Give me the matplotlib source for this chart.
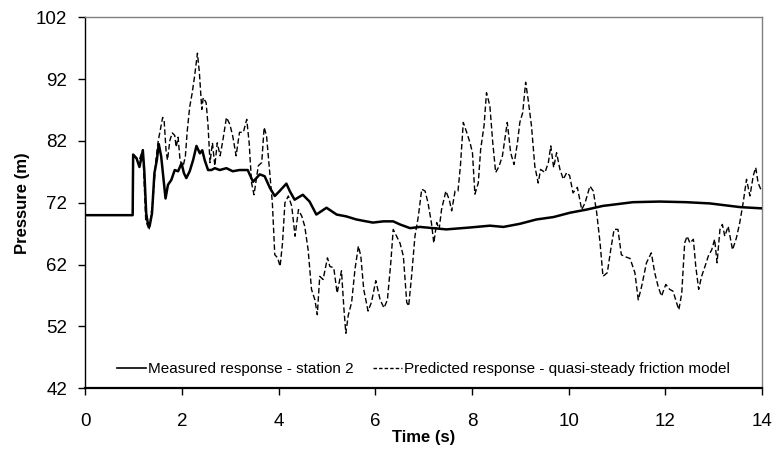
import matplotlib
matplotlib.use("Agg")
import matplotlib.pyplot as plt
from matplotlib.lines import Line2D

plt.rcParams['font.family'] = ['Liberation Sans', 'DejaVu Sans']

# Measured response - station 2
meas_t = [0.0, 0.98, 0.99, 1.06, 1.12, 1.15, 1.19, 1.22, 1.26, 1.30, 1.33, 1.38, 1.43, 1.48,
          1.52, 1.57, 1.62, 1.66, 1.71, 1.78, 1.85, 1.92, 1.99, 2.04, 2.09, 2.16, 2.23, 2.30,
          2.37, 2.42, 2.47, 2.54, 2.61, 2.68, 2.78, 2.92, 3.05, 3.19, 3.36, 3.47, 3.61, 3.71,
          3.82, 3.92, 4.02, 4.16, 4.23, 4.33, 4.50, 4.64, 4.78, 4.99, 5.20, 5.40, 5.61, 5.81,
          5.95, 6.17, 6.37, 6.51, 6.72, 6.92, 7.20, 7.47, 7.95, 8.37, 8.65, 8.99, 9.33, 9.69,
          10.03, 10.37, 10.71, 10.92, 11.33, 11.88, 12.43, 12.92, 13.55, 14.0]
meas_p = [70.0, 70.0, 79.8, 79.2, 77.8, 78.9, 80.5, 77.3, 70.3, 68.4, 68.2, 70.3, 76.8, 78.9,
          81.5, 79.5, 75.7, 72.7, 74.9, 75.7, 77.3, 77.1, 78.4, 76.8, 76.0, 77.1, 78.9, 81.2,
          80.0, 80.5, 78.9, 77.3, 77.3, 77.6, 77.3, 77.6, 77.1, 77.3, 77.3, 75.4, 76.6, 76.3,
          74.4, 73.1, 73.9, 75.1, 73.9, 72.5, 73.3, 72.2, 70.1, 71.2, 70.1, 69.8, 69.3, 69.0,
          68.8, 69.0, 69.0, 68.5, 67.9, 68.1, 67.9, 67.7, 68.0, 68.3, 68.1, 68.6, 69.3, 69.7,
          70.4, 70.9, 71.5, 71.7, 72.1, 72.2, 72.1, 71.9, 71.3, 71.1]

# Predicted response - quasi-steady friction model
pred_t = [0.0, 0.98, 0.99, 1.06, 1.12, 1.19, 1.25, 1.32, 1.40, 1.46, 1.51, 1.55, 1.60, 1.63,
          1.67, 1.70, 1.75, 1.80, 1.85, 1.88, 1.92, 1.96, 2.02, 2.07, 2.11, 2.16, 2.21, 2.26,
          2.32, 2.36, 2.41, 2.44, 2.50, 2.54, 2.58, 2.63, 2.68, 2.73, 2.79, 2.85, 2.92, 2.99,
          3.05, 3.12, 3.19, 3.27, 3.34, 3.39, 3.44, 3.49, 3.58, 3.65, 3.70, 3.75, 3.81, 3.87,
          3.92, 3.98, 4.03, 4.08, 4.13, 4.20, 4.27, 4.34, 4.41, 4.48, 4.54, 4.61, 4.68, 4.75,
          4.80, 4.85, 4.92, 5.01, 5.06, 5.14, 5.21, 5.30, 5.35, 5.39, 5.44, 5.51, 5.58, 5.65,
          5.70, 5.76, 5.85, 5.92, 6.01, 6.10, 6.18, 6.25, 6.32, 6.37, 6.44, 6.51, 6.58, 6.65,
          6.69, 6.75, 6.82, 6.89, 6.96, 7.03, 7.09, 7.16, 7.21, 7.27, 7.32, 7.37, 7.46, 7.53,
          7.58, 7.65, 7.71, 7.76, 7.82, 7.89, 7.96, 8.01, 8.06, 8.13, 8.18, 8.25, 8.30, 8.37,
          8.43, 8.49, 8.56, 8.63, 8.73, 8.80, 8.87, 8.94, 8.99, 9.05, 9.11, 9.16, 9.23, 9.30,
          9.37, 9.42, 9.51, 9.58, 9.63, 9.69, 9.75, 9.82, 9.89, 9.96, 10.02, 10.09, 10.18,
          10.27, 10.34, 10.44, 10.51, 10.58, 10.65, 10.71, 10.80, 10.87, 10.94, 11.02, 11.09,
          11.16, 11.27, 11.37, 11.44, 11.51, 11.61, 11.71, 11.78, 11.85, 11.92, 12.01, 12.09,
          12.16, 12.23, 12.28, 12.34, 12.40, 12.45, 12.51, 12.58, 12.63, 12.69, 12.75, 12.82,
          12.89, 12.96, 13.02, 13.07, 13.13, 13.18, 13.23, 13.30, 13.39, 13.47, 13.54, 13.61,
          13.68, 13.75, 13.82, 13.87, 13.92, 13.99]
pred_p = [70.0, 70.0, 79.8, 79.2, 79.0, 80.6, 69.2, 67.6, 72.5, 78.9, 82.1, 83.7, 85.8, 85.4,
          80.5, 78.9, 82.1, 83.3, 82.9, 81.0, 82.6, 78.9, 77.8, 79.5, 83.7, 87.5, 89.7, 92.4,
          96.2, 93.1, 87.1, 89.0, 88.2, 84.4, 78.5, 81.7, 78.0, 81.7, 79.6, 82.3, 85.8, 84.7,
          82.8, 79.6, 83.4, 83.4, 85.5, 81.7, 75.2, 73.3, 78.0, 78.5, 84.2, 82.8, 77.4, 72.0,
          63.6, 63.1, 61.7, 65.5, 72.0, 73.1, 71.5, 66.6, 70.9, 69.8, 68.2, 64.4, 58.0, 56.3,
          53.9, 60.1, 59.6, 63.1, 61.7, 61.5, 57.4, 61.0, 54.9, 50.9, 53.8, 55.9, 61.3, 65.0,
          63.4, 58.0, 54.5, 55.9, 59.4, 56.3, 55.0, 56.3, 62.3, 67.7, 66.6, 65.5, 63.4, 55.9,
          55.3, 60.1, 66.6, 69.8, 74.2, 73.9, 72.0, 68.8, 65.5, 68.8, 67.7, 70.9, 73.9, 72.5,
          70.7, 73.9, 73.9, 77.9, 85.0, 83.4, 81.7, 80.1, 73.4, 75.2, 80.7, 84.5, 89.8, 87.7,
          81.7, 76.9, 77.9, 79.6, 85.0, 80.1, 78.2, 81.7, 85.0, 86.6, 91.5, 88.8, 84.5, 77.9,
          75.2, 77.4, 76.9, 78.5, 81.2, 77.7, 80.1, 77.4, 75.8, 76.9, 76.4, 73.6, 74.5,
          70.9, 72.0, 74.7, 73.9, 70.4, 65.5, 60.1, 60.7, 64.4, 67.7, 67.7, 63.6,
          63.3, 63.0, 60.7, 56.3, 58.5, 62.3, 63.9, 60.7, 58.5, 56.9, 58.8, 58.0,
          57.7, 55.9, 54.7, 57.4, 65.5, 66.6, 65.5, 66.1, 61.7, 58.0, 60.1, 61.7,
          63.4, 64.4, 66.1, 62.3, 67.7, 68.5, 66.6, 68.2, 64.4, 66.3, 68.8, 72.0,
          75.8, 73.1, 76.4, 77.7, 75.2, 73.9]

x_ticks = [0, 2, 4, 6, 8, 10, 12, 14]
y_ticks = [42, 52, 62, 72, 82, 92, 102]
labels = ["Measured response - station 2", "Predicted response - quasi-steady friction model"]

fig = plt.figure(figsize=(7.77, 4.54), dpi=100)
ax = fig.add_axes([85.3 / 777, 1 - 388.3 / 454, (762 - 85.3) / 777, (388.3 - 17.3) / 454])

ax.plot(pred_t, pred_p, color='black', lw=1.0, ls=(0, (4, 2)), label=labels[1], zorder=2)
ax.plot(meas_t, meas_p, color='black', lw=1.8, ls='-', label=labels[0], zorder=3)

ax.set_xlim(0, 14)
ax.set_ylim(42, 102)
ax.set_xticks(x_ticks)
ax.set_yticks(y_ticks)
ax.tick_params(axis='both', direction='out', length=5, width=1, labelsize=13.5, color='black')
ax.tick_params(axis='x', pad=13)
ax.tick_params(axis='y', pad=8)

for s in ['top', 'right']:
    ax.spines[s].set_color('#808080')
    ax.spines[s].set_linewidth(1.0)
ax.spines['left'].set_color('black')
ax.spines['left'].set_linewidth(1.0)
ax.spines['bottom'].set_color('black')
ax.spines['bottom'].set_linewidth(1.6)

ax.set_xlabel("Time (s)", fontsize=12, fontweight='bold', labelpad=0)
ax.set_ylabel("Pressure (m)", fontsize=12, fontweight='bold', labelpad=4)

handles = [Line2D([], [], color='black', lw=1.2, ls='-'),
           Line2D([], [], color='black', lw=1.0, ls=(0, (2.5, 1.5)))]
ax.legend(handles, labels, loc='lower center', bbox_to_anchor=(0.5, 0.0), ncol=2,
          frameon=False, fontsize=11, handlelength=1.9, handletextpad=0.15,
          columnspacing=1.25, borderaxespad=0.4)

fig.savefig("out.png", dpi=100)
